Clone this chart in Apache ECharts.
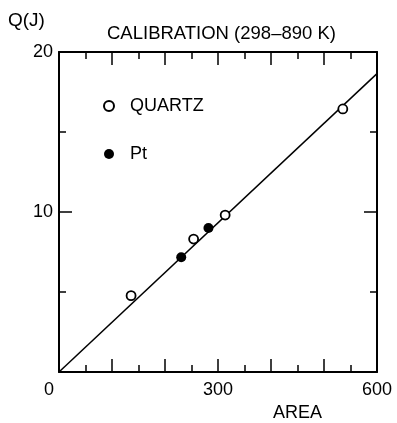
<!DOCTYPE html>
<html>
<head>
<meta charset="utf-8">
<script src="https://cdn.jsdelivr.net/npm/echarts@6/dist/echarts.min.js"></script>
<style>html,body{margin:0;padding:0;background:#fff}#c{width:397px;height:423px}</style>
</head>
<body>
<div id="c"></div>
<script>
var quartzX = [136, 254, 313.5, 535.5];
var quartzY = [4.77, 8.31, 9.81, 16.44];
var ptX = [230.6, 282];
var ptY = [7.17, 9.0];
var fitX = [0, 600];
var fitY = [0, 18.65];
var xLabels = [0, 300, 600];
var yLabels = [10, 20];

function zip(a, b) { return a.map(function (v, i) { return [v, b[i]]; }); }

var FONT = '"Liberation Sans", Arial, sans-serif';
var chart = echarts.init(document.getElementById('c'), null, { renderer: 'canvas' });

function xAxisCfg(pos, showLabels) {
  return {
    type: 'value', position: pos, min: 0, max: 600, interval: 100,
    axisLine: { show: true, onZero: false, lineStyle: { color: '#000', width: 2 } },
    axisTick: { show: true, inside: true, length: 13, lineStyle: { color: '#000', width: 1.5 } },
    minorTick: { show: true, splitNumber: 2, length: 7, lineStyle: { color: '#000', width: 1.5 } },
    splitLine: { show: false }, minorSplitLine: { show: false },
    axisLabel: {
      show: showLabels, margin: 9, color: '#000', fontSize: 18, fontFamily: FONT,
      showMinLabel: true, showMaxLabel: true,
      formatter: function (v) {
        if (xLabels.indexOf(v) < 0) return '';
        return v === 0 ? '{z|0}' : String(v);
      },
      rich: { z: { padding: [0, 20, 0, 0], fontSize: 18, fontFamily: FONT, color: '#000' } }
    }
  };
}
function yAxisCfg(pos, showLabels) {
  return {
    type: 'value', position: pos, min: 0, max: 20, interval: 10,
    axisLine: { show: true, onZero: false, lineStyle: { color: '#000', width: 2 } },
    axisTick: { show: true, inside: true, length: 13, lineStyle: { color: '#000', width: 1.5 } },
    minorTick: { show: true, splitNumber: 2, length: 7, lineStyle: { color: '#000', width: 1.5 } },
    splitLine: { show: false }, minorSplitLine: { show: false },
    axisLabel: {
      show: showLabels, margin: 6, color: '#000', fontSize: 18, fontFamily: FONT,
      showMaxLabel: true,
      formatter: function (v) { return yLabels.indexOf(v) < 0 ? '' : String(v); }
    }
  };
}

chart.setOption({
  animation: false,
  backgroundColor: '#fff',
  grid: { left: 59, right: 20, top: 52, bottom: 51, containLabel: false },
  xAxis: [xAxisCfg('bottom', true), xAxisCfg('top', false)],
  yAxis: [yAxisCfg('left', true), yAxisCfg('right', false)],
  legend: {
    orient: 'vertical', left: 98, top: 92, itemWidth: 28, itemHeight: 10, itemGap: 30,
    data: ['QUARTZ', 'Pt'],
    textStyle: { color: '#000', fontSize: 18, fontFamily: FONT, padding: [0, 0, 0, 2] }
  },
  graphic: [
    { type: 'text', left: 8, top: 11, style: { text: 'Q(J)', fill: '#000', fontSize: 19, fontFamily: FONT } },
    { type: 'text', left: 107, top: 24, style: { text: 'CALIBRATION (298–890 K)', fill: '#000', fontSize: 18.5, fontFamily: FONT } },
    { type: 'text', left: 273, top: 404, style: { text: 'AREA', fill: '#000', fontSize: 18, fontFamily: FONT } }
  ],
  series: [
    {
      type: 'line', data: zip(fitX, fitY), showSymbol: false, silent: true,
      lineStyle: { color: '#000', width: 1.5 }, z: 1
    },
    {
      name: 'QUARTZ', type: 'scatter', data: zip(quartzX, quartzY), symbol: 'circle', symbolSize: 9,
      itemStyle: { color: '#fff', borderColor: '#000', borderWidth: 1.8, opacity: 1 }, z: 3
    },
    {
      name: 'Pt', type: 'scatter', data: zip(ptX, ptY), symbol: 'circle', symbolSize: 10,
      itemStyle: { color: '#000', opacity: 1 }, z: 3
    }
  ]
});
</script>
</body>
</html>
